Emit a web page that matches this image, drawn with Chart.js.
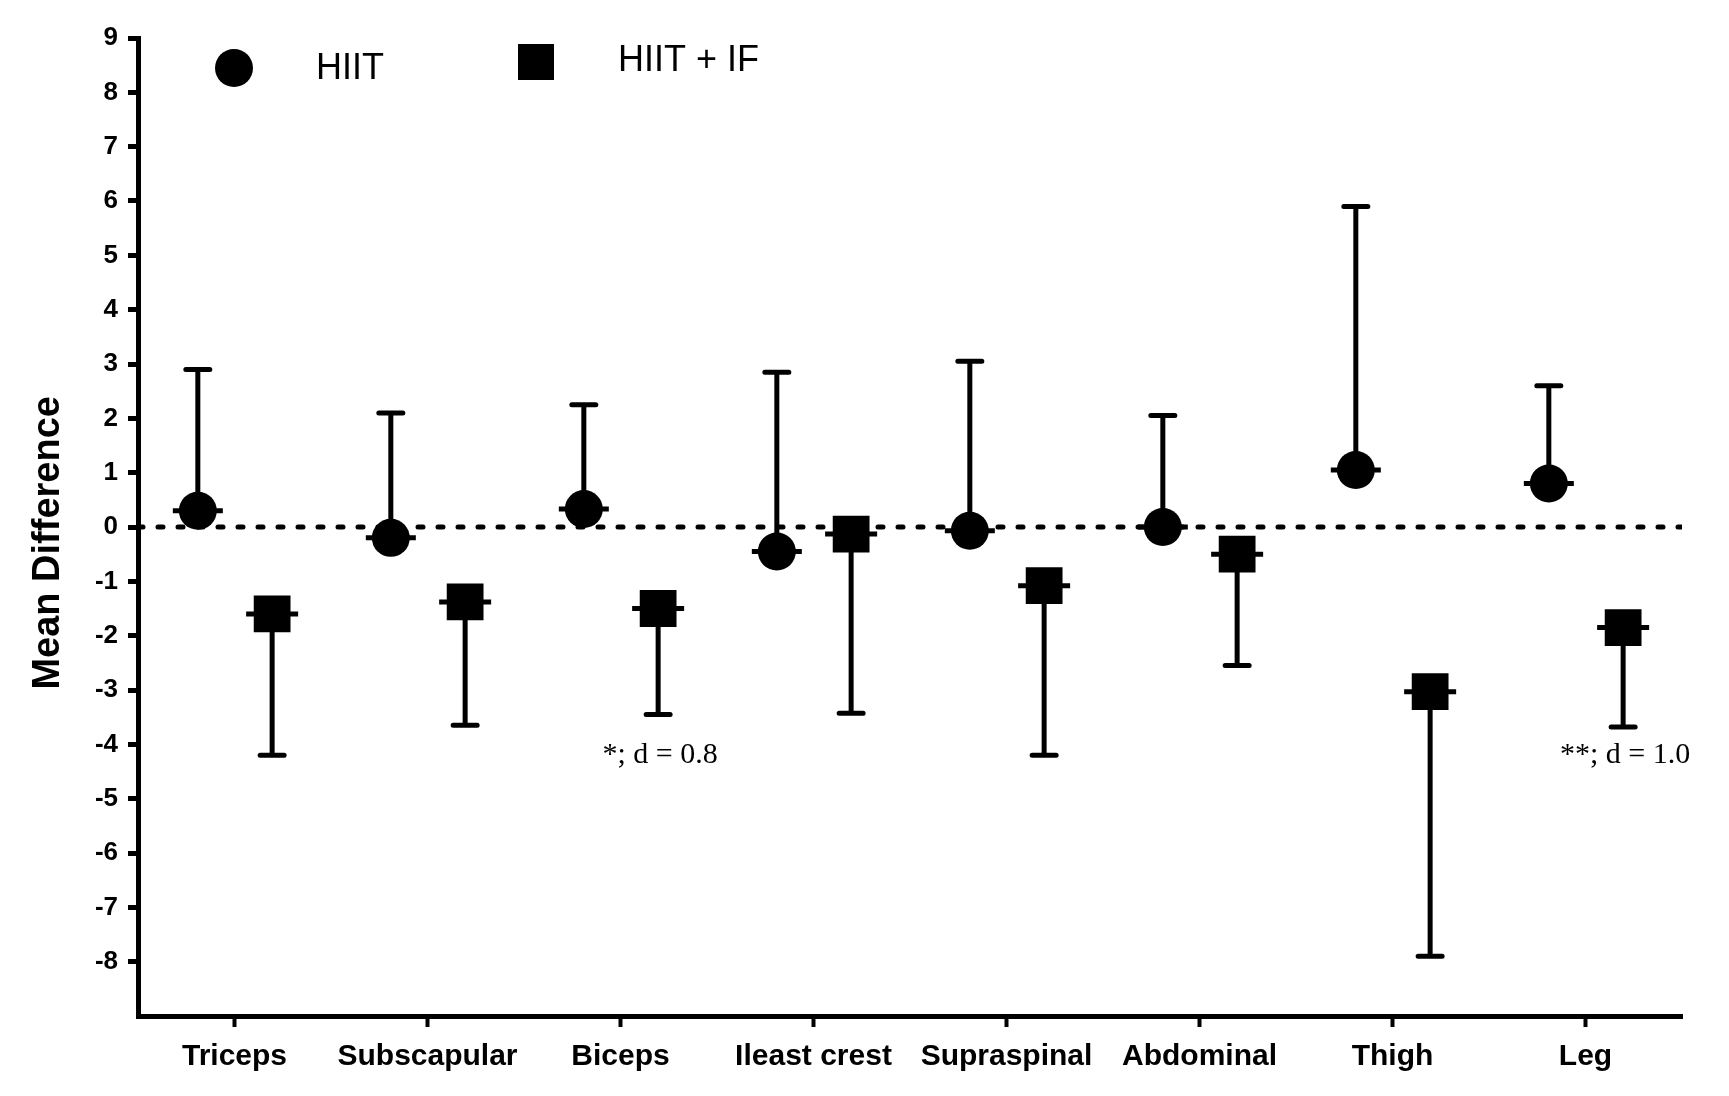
<!DOCTYPE html>
<html>
<head>
<meta charset="utf-8">
<script src="https://cdn.jsdelivr.net/npm/chart.js@4.4.0/dist/chart.umd.min.js"></script>
<style>
  body { margin: 0; background: #fff; }
  #wrap { width: 1729px; height: 1096px; }
</style>
</head>
<body>
<div id="wrap"><canvas id="mdChart" width="1729" height="1096"></canvas></div>
<script>
// skinfold sites
var categories = ['Triceps', 'Subscapular', 'Biceps', 'Ileast crest', 'Supraspinal', 'Abdominal', 'Thigh', 'Leg'];

// HIIT group: mean and upper limit of CI
var hiitMean  = [0.3, -0.2, 0.33, -0.45, -0.07, 0.0, 1.05, 0.8];
var hiitUpper = [2.9, 2.1, 2.25, 2.85, 3.05, 2.05, 5.9, 2.6];

// HIIT + IF group: mean and lower limit of CI
var ifMean  = [-1.6, -1.38, -1.5, -0.13, -1.08, -0.5, -3.03, -1.85];
var ifLower = [-4.2, -3.65, -3.45, -3.43, -4.2, -2.55, -7.9, -3.68];

var yTickValues = [-8, -7, -6, -5, -4, -3, -2, -1, 0, 1, 2, 3, 4, 5, 6, 7, 8, 9];

// effect size notes
var noteText = ['*; d = 0.8', '**; d = 1.0'];
var noteCat  = [2, 7];
var noteY    = [-4.2, -4.2];

var hiitShift = -0.19;
var ifShift = 0.195;

function toPoints(vals, shift) {
    return vals.map(function (v, i) { return { x: i + 0.5 + shift, y: v }; });
}

var errorBars = {
    id: 'errorBars',
    beforeDatasetsDraw: function (chart) {
        var ctx = chart.ctx;
        var xs = chart.scales.x;
        var ys = chart.scales.y;
        ctx.save();
        ctx.strokeStyle = '#000';
        ctx.lineWidth = 5;
        ctx.lineCap = 'round';
        function bar(xv, mean, end) {
            var px = xs.getPixelForValue(xv);
            var pm = ys.getPixelForValue(mean);
            var pe = ys.getPixelForValue(end);
            ctx.beginPath();
            ctx.moveTo(px, pm);
            ctx.lineTo(px, pe);
            ctx.moveTo(px - 12, pe);
            ctx.lineTo(px + 12, pe);
            ctx.stroke();
        }
        for (var i = 0; i < categories.length; i++) {
            bar(i + 0.5 + hiitShift, hiitMean[i], hiitUpper[i]);
            bar(i + 0.5 + ifShift, ifMean[i], ifLower[i]);
        }
        ctx.restore();
    },
    afterDatasetsDraw: function (chart) {
        var ctx = chart.ctx;
        var xs = chart.scales.x;
        var ys = chart.scales.y;
        ctx.save();
        ctx.strokeStyle = '#000';
        ctx.lineWidth = 5;
        ctx.lineCap = 'butt';
        // mean lines through markers
        for (var i = 0; i < categories.length; i++) {
            var a = xs.getPixelForValue(i + 0.5 + hiitShift);
            var b = xs.getPixelForValue(i + 0.5 + ifShift);
            ctx.beginPath();
            ctx.moveTo(a - 25, ys.getPixelForValue(hiitMean[i]));
            ctx.lineTo(a + 25, ys.getPixelForValue(hiitMean[i]));
            ctx.moveTo(b - 26, ys.getPixelForValue(ifMean[i]));
            ctx.lineTo(b + 26, ys.getPixelForValue(ifMean[i]));
            ctx.stroke();
        }
        // notes
        ctx.fillStyle = '#000';
        ctx.font = '30px "Liberation Serif"';
        ctx.textAlign = 'center';
        ctx.textBaseline = 'middle';
        for (var j = 0; j < noteText.length; j++) {
            ctx.fillText(noteText[j], xs.getPixelForValue(noteCat[j] + 0.5 + ifShift) + 2, ys.getPixelForValue(noteY[j]));
        }
        // legend
        var L = chart.chartArea.left;
        var T = chart.chartArea.top;
        ctx.beginPath();
        ctx.arc(L + 96, T + 30, 19, 0, Math.PI * 2);
        ctx.fill();
        ctx.fillRect(L + 398 - 18, T + 24 - 18, 36, 36);
        ctx.font = '36px "Liberation Sans"';
        ctx.textAlign = 'left';
        ctx.fillText('HIIT', L + 178, T + 31);
        ctx.fillText('HIIT + IF', L + 480, T + 23);
        ctx.restore();
    }
};

var ctx = document.getElementById('mdChart').getContext('2d');
var mdChart = new Chart(ctx, {
    type: 'scatter',
    data: {
        datasets: [
            {
                label: 'HIIT',
                data: toPoints(hiitMean, hiitShift),
                pointStyle: 'circle',
                pointRadius: 19,
                backgroundColor: '#000',
                borderColor: '#000',
                borderWidth: 0
            },
            {
                label: 'HIIT + IF',
                data: toPoints(ifMean, ifShift),
                pointStyle: 'rect',
                pointRadius: 26,
                backgroundColor: '#000',
                borderColor: '#000',
                borderWidth: 0
            },
            {
                type: 'line',
                label: 'zero',
                data: [{ x: 0, y: 0 }, { x: 8, y: 0 }],
                borderColor: '#000',
                borderWidth: 5,
                borderDash: [5, 15],
                borderCapStyle: 'round',
                pointRadius: 0,
                fill: false
            }
        ]
    },
    options: {
        responsive: false,
        animation: false,
        devicePixelRatio: 1,
        layout: { padding: { top: 38, right: 47, left: 0, bottom: 0 } },
        plugins: {
            legend: { display: false },
            tooltip: { enabled: false }
        },
        scales: {
            x: {
                type: 'linear',
                min: 0,
                max: 8,
                afterBuildTicks: function (s) {
                    s.ticks = categories.map(function (c, i) { return { value: i + 0.5 }; });
                },
                afterFit: function (s) { s.height = 80; },
                ticks: {
                    autoSkip: false,
                    maxRotation: 0,
                    padding: 12,
                    color: '#000',
                    font: { family: '"Liberation Sans"', size: 30, weight: 'bold' },
                    callback: function (v, i) { return categories[i]; }
                },
                grid: { drawOnChartArea: false, drawTicks: true, tickLength: 11, tickWidth: 4, tickColor: '#000' },
                border: { display: true, width: 5, color: '#000' }
            },
            y: {
                min: -9,
                max: 9,
                afterBuildTicks: function (s) {
                    s.ticks = yTickValues.map(function (v) { return { value: v }; });
                },
                afterFit: function (s) { s.width = 138; },
                ticks: {
                    padding: 10,
                    color: '#000',
                    font: { family: '"Liberation Sans"', size: 26, weight: 'bold' },
                    callback: function (v) { return String(v); }
                },
                grid: { drawOnChartArea: false, drawTicks: true, tickLength: 10, tickWidth: 5, tickColor: '#000' },
                border: { display: true, width: 5, color: '#000' },
                title: {
                    display: true,
                    text: 'Mean Difference   ',
                    color: '#000',
                    padding: { top: 26, bottom: 0 },
                    font: { family: '"Liberation Sans"', size: 38, weight: 'bold' }
                }
            }
        }
    },
    plugins: [errorBars]
});
</script>
</body>
</html>
